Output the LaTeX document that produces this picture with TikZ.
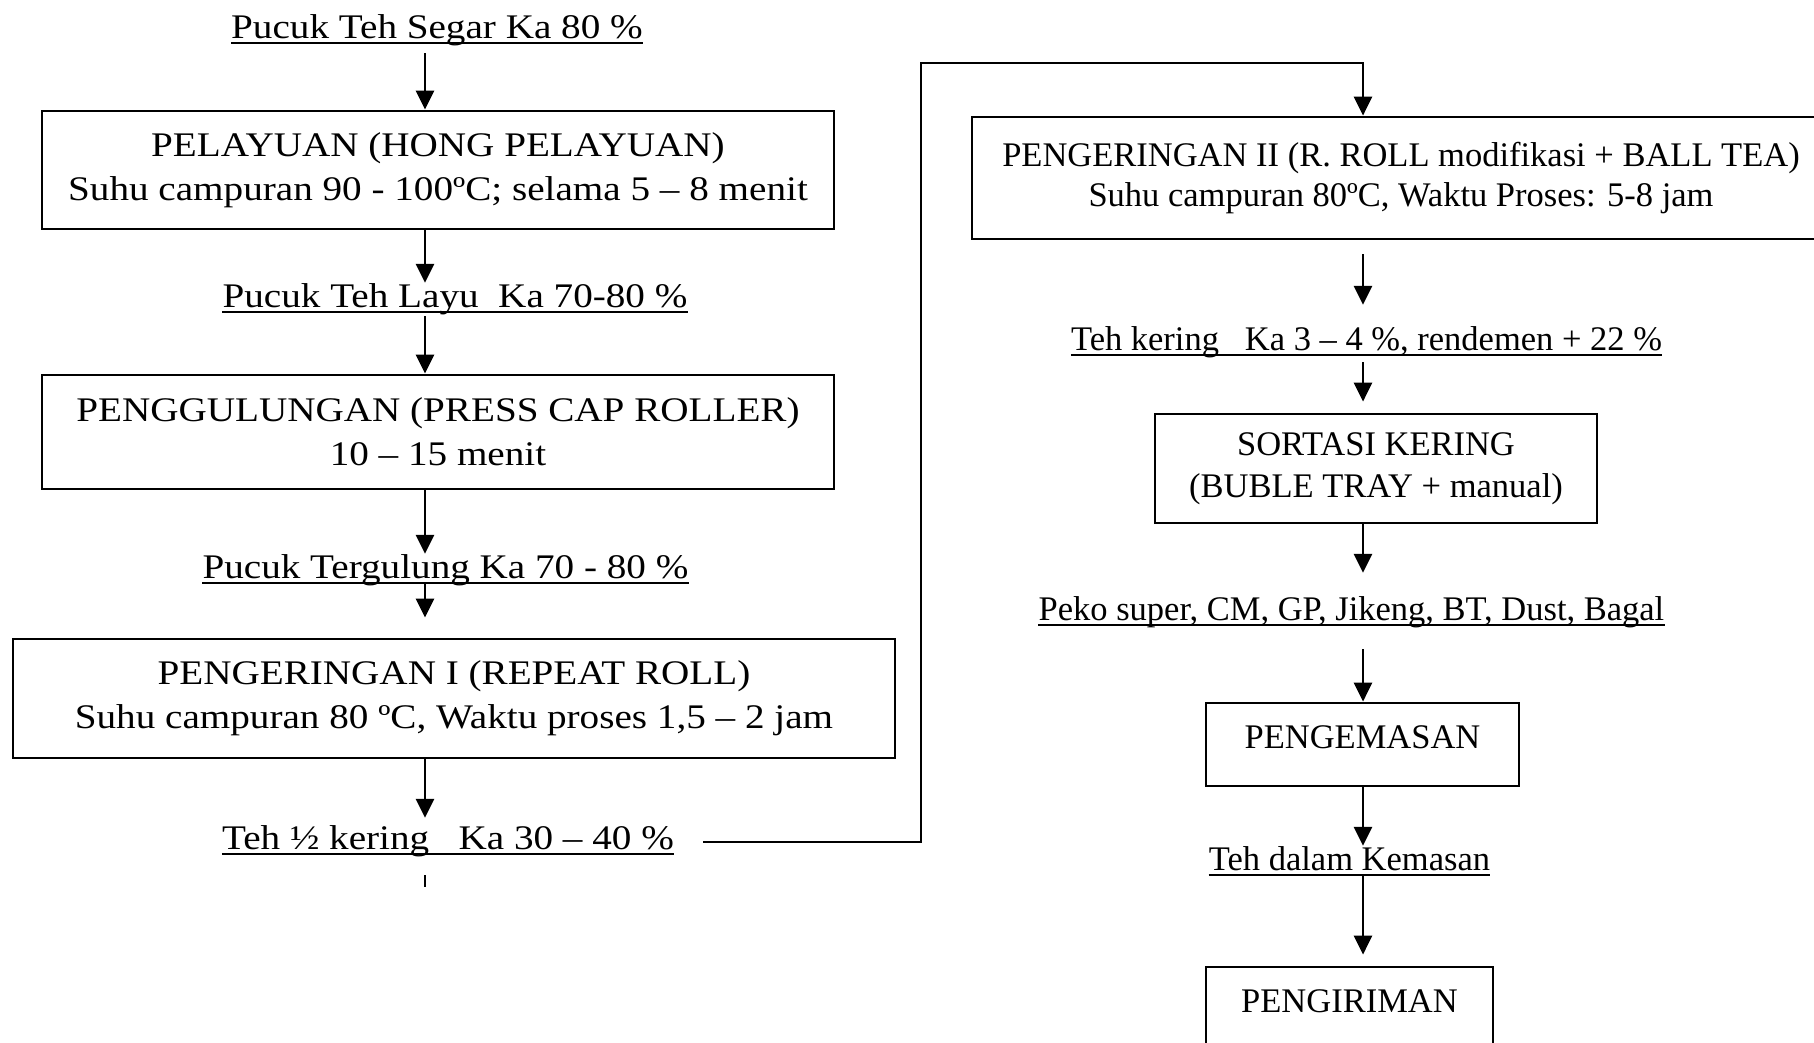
\documentclass[tikz,border=0pt]{standalone}
\usepackage{fontspec}
\setmainfont{Liberation Serif}
\usetikzlibrary{arrows.meta}
\newcommand\sx[1]{\scalebox{1.135}[1]{#1}}
\tikzset{
 lab/.style={inner sep=0pt, anchor=base, text height=24pt, text depth=9pt},
 ulw/.style={line width=2.4pt},
 proc/.style={draw, line width=2.8pt, align=center, inner sep=0pt},
 arr/.style={line width=2.8pt, -{Triangle[length=19pt,width=18pt]}},
 plain/.style={line width=2.8pt},
}
\newcommand\ulabel[4]{%
  \node[lab] (#1) at (#2,#3) {#4};
  \draw[ulw] ([yshift=-5pt]#1.base west) -- ([yshift=-5pt]#1.base east);}
\begin{document}
\begin{tikzpicture}[x=1pt,y=-1pt,font=\fontsize{34.5}{44}\selectfont]
\useasboundingbox (0,0) rectangle (1814,1042);
\clip (0,0) rectangle (1814,1042);
\fill[white] (0,0) rectangle (1814,1042);
\coordinate (colL) at (425,0);
\coordinate (colR) at (1363,0);
\coordinate (bend) at (921,63);

% left column
\ulabel{l0}{437}{38}{\sx{Pucuk Teh Segar Ka 80 \%}}
\node[proc, minimum width=792pt, minimum height=118pt] (b1) at (438,170)
  {\sx{PELAYUAN (HONG PELAYUAN)}\\\sx{Suhu campuran 90 - 100ºC; selama 5 – 8 menit}};
\ulabel{l1}{455}{307}{\sx{Pucuk Teh Layu\ \ Ka 70-80 \%}}
\node[proc, minimum width=792pt, minimum height=114pt] (b2) at (438,432)
  {\sx{PENGGULUNGAN (PRESS CAP ROLLER)}\\\sx{10 – 15 menit}};
\ulabel{l2}{445.5}{578}{\sx{Pucuk Tergulung Ka 70 - 80 \%}}
\node[proc, minimum width=882pt, minimum height=119pt] (b3) at (454,698.5)
  {\sx{PENGERINGAN I (REPEAT ROLL)}\\\sx{Suhu campuran 80 ºC, Waktu proses 1,5 – 2 jam}};
\ulabel{l3}{448}{849}{\sx{Teh ½ kering\ \ \ Ka 30 – 40 \%}}

% right column
\node[proc, minimum width=858pt, minimum height=122pt, font=\fontsize{34.5}{40}\selectfont] (b4) at (1401,178)
  {PENGERINGAN II (R. ROLL modifikasi + BALL TEA)\\Suhu campuran 80ºC, Waktu Proses: 5-8 jam};
\ulabel{r1}{1366.5}{350}{Teh kering\ \ \ Ka 3 – 4 \%, rendemen + 22 \%}
\node[proc, minimum width=442pt, minimum height=109pt, font=\fontsize{34.5}{42}\selectfont] (b5) at (1376,468.5)
  {SORTASI KERING\\(BUBLE TRAY + manual)};
\ulabel{r2}{1351.5}{620}{Peko super, CM, GP, Jikeng, BT, Dust, Bagal}
\node[proc, minimum width=313pt, minimum height=83pt, text depth=14pt] (b6) at (1362.5,744.5)
  {PENGEMASAN};
\ulabel{r3}{1349.5}{870}{Teh dalam Kemasan}
\node[proc, minimum width=287pt, minimum height=90pt, text depth=22pt] (b7) at (1349.5,1012)
  {PENGIRIMAN};

% connectors left
\draw[arr, shorten <=6pt] (l0.south -| colL) -- (b1.north -| colL);
\draw[arr] (b1.south -| colL) -- (l1.north -| colL);
\draw[arr] (l1.south -| colL) -- (b2.north -| colL);
\draw[arr] (b2.south -| colL) -- (l2.north -| colL);
\draw[arr, shorten <=-4pt, shorten >=20pt] (l2.south -| colL) -- (b3.north -| colL);
\draw[arr, shorten >=7pt] (b3.south -| colL) -- (l3.north -| colL);
\draw[plain] (l3.south -| colL) ++(0,17) -- ++(0,12);

% link to right column
\draw[arr] ([xshift=29pt,yshift=7pt]l3.base east) -| (bend) -- (bend -| colR) -- (b4.north -| colR);

% connectors right
\draw[arr, shorten <=14pt, shorten >=21pt] (b4.south -| colR) -- (r1.north -| colR);
\draw[arr, shorten <=3pt, shorten >=11pt] (r1.south -| colR) -- (b5.north -| colR);
\draw[arr, shorten >=23pt] (b5.south -| colR) -- (r2.north -| colR);
\draw[arr, shorten <=20pt] (r2.south -| colR) -- (b6.north -| colR);
\draw[arr] (b6.south -| colR) -- (r3.north -| colR);
\draw[arr, shorten <=-3pt, shorten >=11pt] (r3.south -| colR) -- (b7.north -| colR);
\end{tikzpicture}
\end{document}
